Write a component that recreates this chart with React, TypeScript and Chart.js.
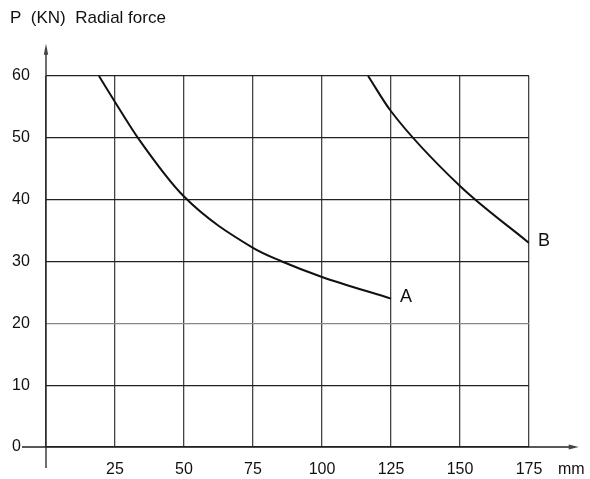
import { useEffect, useRef } from 'react';
import { Chart, registerables } from 'chart.js';

Chart.register(...registerables);

// ---- data ----
const xTickValues = [0, 25, 50, 75, 100, 125, 150, 175];
const yTickValues = [0, 10, 20, 30, 40, 50, 60];
const seriesNames = ['A', 'B'];
const seriesAX = [19.2, 25, 33.3, 50, 75, 85.5, 100, 125];
const seriesAY = [60, 55.8, 50, 40.5, 32.2, 30, 27.5, 24];
const seriesBX = [116.7, 125, 150, 175];
const seriesBY = [60, 54.3, 42.2, 33];
const titleText = 'P  (KN)  Radial force';
const xUnit = 'mm';

const FONT = '"Liberation Sans", Arial, sans-serif';

const toPoints = (xs: number[], ys: number[]) => xs.map((x, i) => ({ x, y: ys[i] }));

const axesPlugin = {
  id: 'axesArrows',
  beforeDatasetsDraw(chart: any) {
    const { ctx, scales } = chart;
    const xs = scales.x;
    const ys = scales.y;
    const x0 = xs.getPixelForValue(0);
    const y0 = ys.getPixelForValue(0);
    const xl = xs.getPixelForValue(-8.7);
    const xr = xs.getPixelForValue(193);
    const yb = ys.getPixelForValue(-3.4);
    const yt = ys.getPixelForValue(65.2);
    ctx.save();
    ctx.strokeStyle = '#222';
    ctx.lineWidth = 1.3;
    ctx.beginPath();
    ctx.moveTo(xl, y0);
    ctx.lineTo(xr - 4, y0);
    ctx.moveTo(x0, yb);
    ctx.lineTo(x0, yt + 4);
    ctx.stroke();
    ctx.fillStyle = '#444';
    ctx.beginPath();
    ctx.moveTo(xr, y0);
    ctx.lineTo(xr - 10, y0 - 2.5);
    ctx.lineTo(xr - 10, y0 + 2.5);
    ctx.closePath();
    ctx.fill();
    ctx.beginPath();
    ctx.moveTo(x0, yt);
    ctx.lineTo(x0 - 2.2, yt + 11);
    ctx.lineTo(x0 + 2.2, yt + 11);
    ctx.closePath();
    ctx.fill();
    ctx.restore();
  },
  afterDraw(chart: any) {
    const { ctx, scales } = chart;
    const xs = scales.x;
    const ys = scales.y;
    ctx.save();
    ctx.fillStyle = '#111';
    ctx.textBaseline = 'middle';
    ctx.textAlign = 'left';
    ctx.font = `17px ${FONT}`;
    ctx.fillText(titleText, 10, 18);
    ctx.font = `16px ${FONT}`;
    ctx.fillText(xUnit, 558, ys.getPixelForValue(0) + 23);
    ctx.font = `18px ${FONT}`;
    chart.data.datasets.forEach((ds: any) => {
      const last = ds.data[ds.data.length - 1];
      ctx.fillText(ds.label, xs.getPixelForValue(last.x) + 9, ys.getPixelForValue(last.y) - 2);
    });
    ctx.restore();
  },
};

export default function App() {
  const ref = useRef<HTMLCanvasElement>(null);
  useEffect(() => {
    document.body.style.margin = '0';
    const canvas = ref.current;
    if (!canvas) return;
    const chart = new Chart(canvas, {
      type: 'line',
      data: {
        datasets: [
          {
            label: seriesNames[0],
            data: toPoints(seriesAX, seriesAY),
            borderColor: '#111',
            borderWidth: 2,
            pointRadius: 0,
            cubicInterpolationMode: 'monotone',
            fill: false,
          },
          {
            label: seriesNames[1],
            data: toPoints(seriesBX, seriesBY),
            borderColor: '#111',
            borderWidth: 2,
            pointRadius: 0,
            cubicInterpolationMode: 'monotone',
            fill: false,
          },
        ],
      },
      options: {
        responsive: false,
        animation: false,
        layout: { padding: { left: 12, top: 76, right: 61, bottom: 0 } },
        plugins: { legend: { display: false }, tooltip: { enabled: false }, title: { display: false } },
        scales: {
          x: {
            type: 'linear',
            min: 0,
            max: 175,
            afterFit: (s: any) => { s.height = 32; },
            afterBuildTicks: (s: any) => { s.ticks = xTickValues.map((v) => ({ value: v })); },
            ticks: {
              padding: 13,
              color: '#111',
              font: { family: FONT, size: 16 },
              callback: (v: any) => (v === 0 ? '' : String(v)),
              maxRotation: 0,
              autoSkip: false,
            },
            grid: { color: '#444', lineWidth: 1.3, drawTicks: false },
            border: { display: false },
          },
          y: {
            type: 'linear',
            min: 0,
            max: 60,
            afterFit: (s: any) => { s.width = 34; },
            afterBuildTicks: (s: any) => { s.ticks = yTickValues.map((v) => ({ value: v })); },
            ticks: {
              crossAlign: 'far',
              color: '#111',
              font: { family: FONT, size: 16 },
              autoSkip: false,
            },
            grid: {
              color: (c: any) => (c.tick && c.tick.value === 20 ? '#888' : '#222'),
              lineWidth: 1.3,
              drawTicks: false,
            },
            border: { display: false },
          },
        },
      },
      plugins: [axesPlugin],
    } as any);
    return () => chart.destroy();
  }, []);
  return <canvas ref={ref} width={590} height={479} />;
}
